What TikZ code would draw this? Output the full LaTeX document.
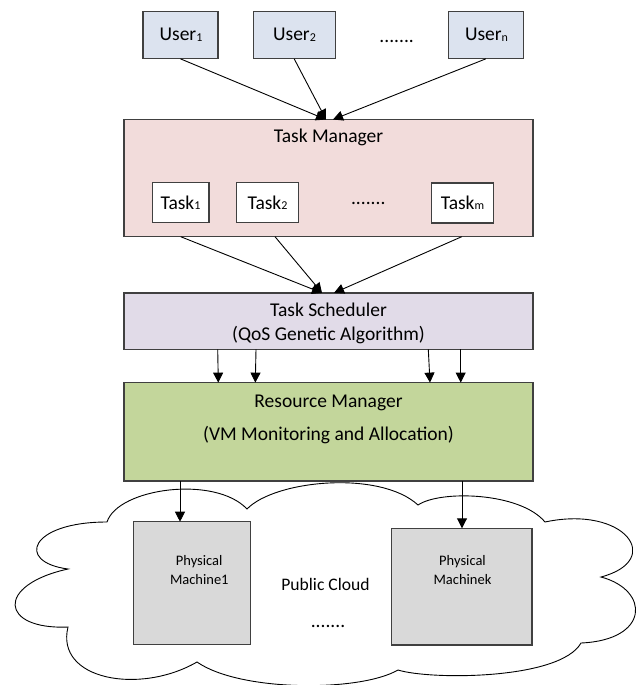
\documentclass[tikz,border=0pt]{standalone}
\usepackage{fontspec}
\setmainfont{Carlito}
\usetikzlibrary{arrows.meta}

\definecolor{userfill}{HTML}{DCE3EF}
\definecolor{tmfill}{HTML}{F2DCDB}
\definecolor{tsfill}{HTML}{E1DBE8}
\definecolor{rmfill}{HTML}{C3D69B}
\definecolor{pmfill}{HTML}{D9D9D9}
\definecolor{edge}{HTML}{404040}

% small index digits/letters after a word
\newcommand\subsc[1]{\raisebox{-0.6pt}{\fontsize{12}{12}\selectfont #1}}

\tikzset{
  box/.style={draw=edge, line width=1.2pt, inner sep=0pt, rectangle},
  userbox/.style={box, fill=userfill, minimum width=75pt, minimum height=46.5pt},
  taskbox/.style={box, fill=white, minimum height=40pt},
  layer/.style={box, minimum width=409pt},
  pmbox/.style={box, fill=pmfill},
  txt/.style={inner sep=0pt, font=\fontsize{19.5}{23}\selectfont, text height=12.6pt, text depth=0pt},
  smalltxt/.style={inner sep=0pt, font=\fontsize{14.5}{17}\selectfont, text height=9.3pt, text depth=0pt},
  cloudtxt/.style={inner sep=0pt, font=\fontsize{17.6}{21}\selectfont, text height=11.3pt, text depth=0pt},
  dots/.style={inner sep=0pt, anchor=base, font=\fontsize{19.5}{23}\selectfont},
  arr/.style={-{Triangle[length=10pt,width=10pt]}, line width=0.9pt, black},
  cloudline/.style={draw=black, line width=0.9pt, fill=white}
}

\begin{document}
\begin{tikzpicture}[x=1pt, y=-1pt]
\useasboundingbox (0,0) rectangle (638,685);

% public cloud outline
\draw[cloudline] (107,522) .. controls (118,488) and (215,475) .. (247,509)
  .. controls (275,480) and (380,470) .. (418,505)
  .. controls (440,490) and (520,492) .. (545,522)
  .. controls (625,505) and (665,560) .. (601,577)
  .. controls (650,590) and (650,640) .. (581,643)
  .. controls (560,680) and (430,680) .. (398,670)
  .. controls (360,692) and (240,692) .. (197,662)
  .. controls (140,695) and (55,680) .. (68,627)
  .. controls (0,630) and (-5,585) .. (68,569)
  .. controls (15,562) and (30,522) .. (107,522) -- cycle;

% users
\node[userbox] (u1) at (180.5,35) {};
\node[userbox, minimum width=82pt] (u2) at (294.2,35) {};
\node[userbox] (un) at (485.8,35) {};
\node[txt] (u1t) at (181,34.5) {User\subsc{1}};
\node[txt] (u2t) at (294.5,34.5) {User\subsc{2}};
\node[txt] (unt) at (486.5,34.5) {User\subsc{n}};
\node[dots] (udots) at (396.7,43) {.......};

% task manager
\node[layer, fill=tmfill, minimum height=117pt] (tm) at (328.5,178) {};
\node[txt] (tmt) at (328.5,136.3) {Task Manager};
\node[taskbox, minimum width=56.7pt] (t1) at (180.7,202.7) {};
\node[taskbox, minimum width=61.6pt] (t2) at (267.5,202.7) {};
\node[taskbox, minimum width=61.6pt] (tk) at (462.5,203) {};
\node[txt] (t1t) at (180.5,202.7) {Task\subsc{1}};
\node[txt] (t2t) at (267.5,202.7) {Task\subsc{2}};
\node[txt] (tkt) at (462.5,202.7) {Task\subsc{m}};
\node[dots] (tdots) at (368.3,204) {.......};

% task scheduler
\node[layer, fill=tsfill, minimum height=56.3pt] (ts) at (328.5,321.2) {};
\node[txt] (tst1) at (328.5,310) {Task Scheduler};
\node[txt] (tst2) at (328.5,333.7) {(QoS Genetic Algorithm)};

% resource manager
\node[layer, fill=rmfill, minimum height=98.3pt] (rm) at (328.5,431.8) {};
\node[txt] (rmt1) at (328.5,401.3) {Resource Manager};
\node[txt] (rmt2) at (328.5,434.2) {(VM Monitoring and Allocation)};

% physical machines
\node[pmbox, minimum width=117.4pt, minimum height=122.6pt] (pm1) at (192,583) {};
\node[smalltxt] (pm1a) at (199.2,561.3) {Physical};
\node[smalltxt] (pm1b) at (199.3,579.7) {Machine1};
\node[pmbox, minimum width=140.7pt, minimum height=116.7pt] (pmk) at (461.7,586.7) {};
\node[smalltxt] (pmka) at (462.5,561.3) {Physical};
\node[smalltxt] (pmkb) at (462.5,579.7) {Machinek};

\node[cloudtxt] (cloud) at (325.5,585) {Public Cloud};
\node[dots] (cdots) at (328,627) {.......};

% connector end points on the layer borders
\coordinate (tmA) at (326,119.5);
\coordinate (tmB) at (333,119.5);
\coordinate (tmo1) at (180.7,236.7);
\coordinate (tmo2) at (275,236.7);
\coordinate (tmo3) at (461.7,236.7);
\coordinate (tsA) at (322,292.9);
\coordinate (tsB) at (334,292.9);
\coordinate (ts1) at (217.7,349.3);
\coordinate (ts2) at (256,349.3);
\coordinate (ts3) at (428.3,349.3);
\coordinate (ts4) at (460.7,349.3);
\coordinate (rm1) at (218.3,382.6);
\coordinate (rm2) at (255.3,382.6);
\coordinate (rm3) at (430,382.6);
\coordinate (rm4) at (460.7,382.6);
\coordinate (rmo1) at (180,481);
\coordinate (rmo2) at (462,481);
\coordinate (pm1in) at (180,521.7);
\coordinate (pmkin) at (462,528.3);

% connectors
\draw[arr] (u1.south) -- (tmA);
\draw[arr] (u2.south) -- (tmA);
\draw[arr] (un.south) -- (tmB);
\draw[arr] (tmo1) -- (tsA);
\draw[arr] (tmo2) -- (tsA);
\draw[arr] (tmo3) -- (tsB);
\draw[arr] (ts1) -- (rm1);
\draw[arr] (ts2) -- (rm2);
\draw[arr] (ts3) -- (rm3);
\draw[arr] (ts4) -- (rm4);
\draw[arr] (rmo1) -- (pm1in);
\draw[arr] (rmo2) -- (pmkin);
\end{tikzpicture}
\end{document}
